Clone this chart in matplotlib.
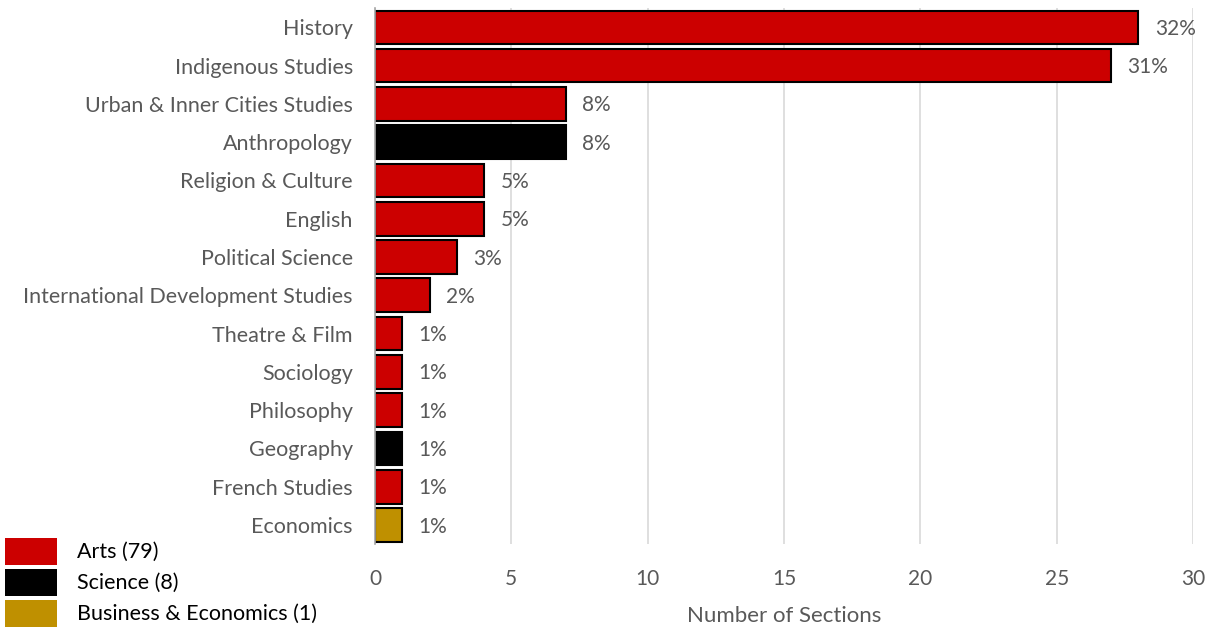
import matplotlib

matplotlib.use("Agg")

import matplotlib.pyplot as plt
import numpy as np
from matplotlib.patches import Patch

categories = [
    "History",
    "Indigenous Studies",
    "Urban & Inner Cities Studies",
    "Anthropology",
    "Religion & Culture",
    "English",
    "Political Science",
    "International Development Studies",
    "Theatre & Film",
    "Sociology",
    "Philosophy",
    "Geography",
    "French Studies",
    "Economics",
]
sections = [28, 27, 7, 7, 4, 4, 3, 2, 1, 1, 1, 1, 1, 1]
faculty = [
    "Arts", "Arts", "Arts", "Science", "Arts", "Arts", "Arts",
    "Arts", "Arts", "Arts", "Arts", "Science", "Arts", "Business",
]
pct_labels = ["32%", "31%", "8%", "8%", "5%", "5%", "3%", "2%",
              "1%", "1%", "1%", "1%", "1%", "1%"]
legend_labels = ["Arts (79)", "Science (8)", "Business & Economics (1)"]

colors = {"Arts": "#CC0000", "Science": "#000000", "Business": "#BF9000"}
text_gray = "#595959"

plt.rcParams["font.family"] = ["Lato", "DejaVu Sans"]

fig = plt.figure(figsize=(12.07, 6.32), dpi=100)
ax = fig.add_axes([0.3107, 0.139, 0.6777, 0.848])

positions = np.arange(len(categories))
bars = ax.barh(
    positions,
    sections,
    height=0.88,
    color=[colors[f] for f in faculty],
    edgecolor="black",
    linewidth=1.5,
    zorder=3,
)

for bar, label in zip(bars, pct_labels):
    ax.text(
        bar.get_width() + 0.6,
        bar.get_y() + bar.get_height() / 2 + 0.04,
        label,
        va="center",
        ha="left",
        fontsize=15,
        color=text_gray,
    )

ax.set_ylim(len(categories) - 0.5, -0.5)
ax.set_yticks(positions)
ax.set_yticklabels(categories, fontsize=15.5, color=text_gray)
ax.set_xlim(0, 30)
ax.set_xticks(range(0, 31, 5))
ax.tick_params(axis="x", labelsize=15, labelcolor=text_gray, length=0, pad=18)
ax.tick_params(axis="y", length=0, pad=16)
ax.set_xlabel("Number of Sections", fontsize=16, color=text_gray, labelpad=12)

ax.grid(axis="x", color="#D9D9D9", linewidth=1.2, zorder=0)
for side in ["top", "right", "bottom"]:
    ax.spines[side].set_visible(False)
ax.spines["left"].set_color("#A6A6A6")
ax.spines["left"].set_linewidth(1.2)
ax.spines["left"].set_zorder(4)

handles = [Patch(facecolor=c) for c in colors.values()]
fig.legend(
    handles,
    legend_labels,
    loc="lower left",
    bbox_to_anchor=(0.0, 0.0),
    frameon=False,
    fontsize=15.5,
    handlelength=2.4,
    handleheight=1.55,
    handletextpad=0.95,
    labelspacing=0.19,
    borderaxespad=0.0,
    borderpad=0.25,
)

fig.savefig("out.png", dpi=100)
